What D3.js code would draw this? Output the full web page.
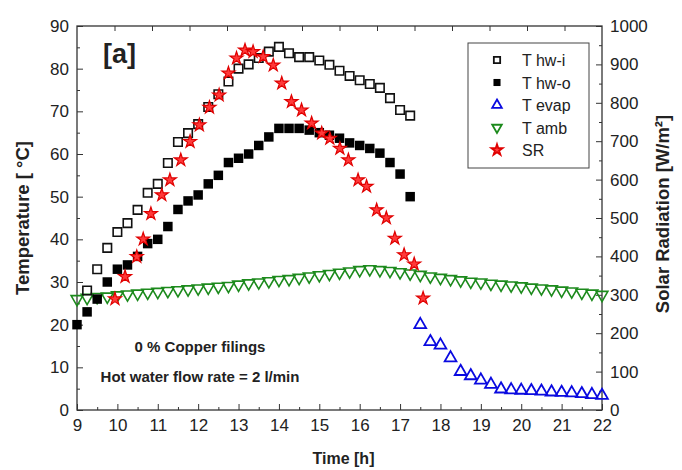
<!DOCTYPE html>
<html>
<head>
<meta charset="utf-8">
<script src="https://cdn.jsdelivr.net/npm/d3@7"></script>
<style>
  body { margin:0; background:#fff; }
  text { font-family: "Liberation Sans", Arial, sans-serif; }
</style>
</head>
<body>
<div id="chart"></div>
<script>
//DATA (time in h, temperatures in degC, radiation in W/m2)
var hwiTime = [9.25,9.5,9.75,10,10.25,10.5,10.75,11,11.25,11.5,11.75,12,12.25,12.5,12.75,13,13.25,13.5,13.75,14,14.25,14.5,14.75,15,15.25,15.5,15.75,16,16.25,16.5,16.75,17,17.25];
var hwiTemp = [28,33,38,41.7,43.8,46.9,50.9,53,57.9,62.8,64.9,67,71,74,77,80,81,82.5,84,85.1,83.6,82.7,82.7,81.9,80.9,79.5,78.3,77.3,76.4,75.5,73.1,70.3,69];

var hwoTime = [9,9.25,9.5,9.75,10,10.25,10.5,10.75,11,11.25,11.5,11.75,12,12.25,12.5,12.75,13,13.25,13.5,13.75,14,14.25,14.5,14.75,15,15.25,15.5,15.75,16,16.25,16.5,16.75,17,17.25];
var hwoTemp = [20,23,26,30,33,34,36,39,40,43,47,49,50.4,53,55,58,59,60,62,64,66,66,66,65.6,65,64.4,63.7,62.6,62,61.3,60.2,58,55.3,50];

var evapTime = [17.5,17.75,18,18.25,18.5,18.75,19,19.25,19.5,19.75,20,20.25,20.5,20.75,21,21.25,21.5,21.75,22];
var evapTemp = [20,16,15.2,12.2,9,8,7,6,4.9,4.7,4.6,4.5,4.4,4.2,4.1,4,3.8,3.6,3.4];

var ambTime = [9,9.25,9.5,9.75,10,10.25,10.5,10.75,11,11.25,11.5,11.75,12,12.25,12.5,12.75,13,13.25,13.5,13.75,14,14.25,14.5,14.75,15,15.25,15.5,15.75,16,16.25,16.5,16.75,17,17.25,17.5,17.75,18,18.25,18.5,18.75,19,19.25,19.5,19.75,20,20.25,20.5,20.75,21,21.25,21.5,21.75,22];
var ambTemp = [26,26.3,26.5,26.6,26.9,27.1,27.3,27.5,27.7,27.9,28.1,28.3,28.5,28.7,28.9,29.1,29.4,29.7,29.9,30.2,30.5,30.7,31,31.3,31.6,31.9,32.2,32.5,32.8,33,32.8,32.6,32.3,32,31.7,31.3,31,30.7,30.4,30.1,29.9,29.6,29.4,29.2,29,28.7,28.5,28.3,28,27.8,27.5,27.3,27];

var srTime = [9.94,10.19,10.48,10.64,10.83,11.1,11.3,11.57,11.8,12.03,12.28,12.52,12.75,12.95,13.16,13.36,13.61,13.86,14.07,14.31,14.56,14.81,15.06,15.26,15.51,15.72,15.96,16.17,16.42,16.66,16.87,17.1,17.35,17.57];
var srVal = [289,347,399,445,511,560,599,651,699,742,788,820,877,916,937,933,920,898,851,803,781,747,721,707,681,651,599,582,521,500,447,404,380,291];

var timeTicks = d3.range(9, 23, 1);
var tempTicks = d3.range(0, 100, 10);
var srTicks = d3.range(0, 1100, 100);

var legendNames = ["T hw-i", "T hw-o", "T evap", "T amb", "SR"];

var width = 682;
var height = 470;

//plot box in px (don't name these top/left, window.top is read only)
var box = { l: 77, r: 602, t: 26, b: 410 };

//---SVG
var svg = d3.select("#chart").append("svg")
  .attr("width", width)
  .attr("height", height);

svg.append("rect")
  .attr("width", width)
  .attr("height", height)
  .attr("fill", "#fff");

var x = d3.scaleLinear().domain([9, 22]).range([box.l, box.r]);
var yT = d3.scaleLinear().domain([0, 90]).range([box.b, box.t]);
var yS = d3.scaleLinear().domain([0, 1000]).range([box.b, box.t]);
var xTop = d3.scaleLinear().domain([0, 14]).range([box.l, box.r]); //top ticks don't follow the hours

//---AXES (ticks inward)
function styleAxis(g) {
  g.select(".domain").remove();
  g.selectAll("line").attr("stroke", "#333").attr("stroke-width", 1);
  g.selectAll("text").attr("fill", "#222").style("font-size", "17px")
    .style("font-family", "'Liberation Sans', Arial, sans-serif");
}

svg.append("g").attr("transform", "translate(0," + box.b + ")")
  .call(d3.axisBottom(x).tickValues(timeTicks).tickSize(-6).tickPadding(9).tickFormat(d3.format("d")))
  .call(styleAxis);
svg.append("g").attr("transform", "translate(0," + box.b + ")")
  .call(d3.axisBottom(x).tickValues(d3.range(9.5, 22, 1)).tickSize(-3).tickFormat(""))
  .call(styleAxis);

svg.append("g").attr("transform", "translate(" + box.l + ",0)")
  .call(d3.axisLeft(yT).tickValues(tempTicks).tickSize(-6).tickPadding(8).tickFormat(d3.format("d")))
  .call(styleAxis);
svg.append("g").attr("transform", "translate(" + box.l + ",0)")
  .call(d3.axisLeft(yT).tickValues(d3.range(5, 90, 10)).tickSize(-3).tickFormat(""))
  .call(styleAxis);

svg.append("g").attr("transform", "translate(" + box.r + ",0)")
  .call(d3.axisRight(yS).tickValues(srTicks).tickSize(-6).tickPadding(8).tickFormat(d3.format("d")))
  .call(styleAxis);
svg.append("g").attr("transform", "translate(" + box.r + ",0)")
  .call(d3.axisRight(yS).tickValues(d3.range(50, 1000, 100)).tickSize(-3).tickFormat(""))
  .call(styleAxis);

svg.append("g").attr("transform", "translate(0," + box.t + ")")
  .call(d3.axisTop(xTop).tickValues(d3.range(1, 14)).tickSize(-5).tickFormat(""))
  .call(styleAxis);

//frame
svg.append("rect")
  .attr("x", box.l).attr("y", box.t)
  .attr("width", box.r - box.l).attr("height", box.b - box.t)
  .attr("fill", "none").attr("stroke", "#333").attr("stroke-width", 1.3);

//---SERIES
var sym = {
  hwi: d3.symbol().type(d3.symbolSquare).size(72),
  hwo: d3.symbol().type(d3.symbolSquare).size(90),
  tri: d3.symbol().type(d3.symbolTriangle).size(60),
  star: d3.symbol().type(d3.symbolStar).size(52)
};

var data = svg.append("g").attr("id", "data");

function series(times, vals, yScale) {
  return times.map(function(t, i){ return [x(t), yScale(vals[i])]; });
}

data.append("g").selectAll("path")
  .data(series(ambTime, ambTemp, yT)).enter().append("path")
  .attr("d", sym.tri)
  .attr("transform", function(d){ return "translate(" + d[0] + "," + d[1] + ") rotate(180)"; })
  .attr("fill", "none").attr("stroke", "#1c8a1c").attr("stroke-width", 1.6);

data.append("g").selectAll("path")
  .data(series(evapTime, evapTemp, yT)).enter().append("path")
  .attr("d", sym.tri)
  .attr("transform", function(d){ return "translate(" + d[0] + "," + d[1] + ")"; })
  .attr("fill", "none").attr("stroke", "#0a0ae0").attr("stroke-width", 1.8);

data.append("g").selectAll("path")
  .data(series(hwiTime, hwiTemp, yT)).enter().append("path")
  .attr("d", sym.hwi)
  .attr("transform", function(d){ return "translate(" + d[0] + "," + d[1] + ")"; })
  .attr("fill", "none").attr("stroke", "#111").attr("stroke-width", 1.6);

data.append("g").selectAll("path")
  .data(series(hwoTime, hwoTemp, yT)).enter().append("path")
  .attr("d", sym.hwo)
  .attr("transform", function(d){ return "translate(" + d[0] + "," + d[1] + ")"; })
  .attr("fill", "#000");

data.append("g").selectAll("path")
  .data(series(srTime, srVal, yS)).enter().append("path")
  .attr("d", sym.star)
  .attr("transform", function(d){ return "translate(" + d[0] + "," + d[1] + ")"; })
  .attr("fill", "#ff3a3a").attr("stroke", "#e00000").attr("stroke-width", 1.2);

//---LEGEND
var ui = svg.append("g").attr("id", "ui");

ui.append("rect")
  .attr("x", 468).attr("y", 43).attr("width", 121).attr("height", 125)
  .attr("fill", "#fff").attr("stroke", "#444").attr("stroke-width", 1);

var legendSym = [
  {s: d3.symbol().type(d3.symbolSquare).size(40), fill: "none", stroke: "#111", rot: 0},
  {s: d3.symbol().type(d3.symbolSquare).size(50), fill: "#000", stroke: "none", rot: 0},
  {s: d3.symbol().type(d3.symbolTriangle).size(40), fill: "none", stroke: "#0a0ae0", rot: 0},
  {s: d3.symbol().type(d3.symbolTriangle).size(40), fill: "none", stroke: "#1c8a1c", rot: 180},
  {s: d3.symbol().type(d3.symbolStar).size(38), fill: "#ff3a3a", stroke: "#e00000", rot: 0}
];

var rows = ui.selectAll("g.leg").data(legendNames).enter().append("g")
  .attr("class", "leg")
  .attr("transform", function(d, i){ return "translate(497," + (60 + i * 22.5) + ")"; });

rows.append("path")
  .attr("d", function(d, i){ return legendSym[i].s(); })
  .attr("transform", function(d, i){ return "rotate(" + legendSym[i].rot + ")"; })
  .attr("fill", function(d, i){ return legendSym[i].fill; })
  .attr("stroke", function(d, i){ return legendSym[i].stroke; })
  .attr("stroke-width", 1.8);

rows.append("text")
  .attr("x", 25).attr("y", 6)
  .style("font-size", "16px").attr("fill", "#222")
  .text(function(d){ return d; });

//---TEXTS
ui.append("text").attr("x", 103).attr("y", 63)
  .style("font-size", "27px").style("font-weight", "bold").attr("fill", "#222")
  .text("[a]");

ui.append("text").attr("x", 200).attr("y", 352).attr("text-anchor", "middle")
  .style("font-size", "15px").style("font-weight", "bold").attr("fill", "#222")
  .text("0 % Copper filings");

ui.append("text").attr("x", 200).attr("y", 382).attr("text-anchor", "middle")
  .style("font-size", "15px").style("font-weight", "bold").attr("fill", "#222")
  .text("Hot water flow rate = 2 l/min");

ui.append("text").attr("x", (box.l + box.r) / 2 + 4).attr("y", 464).attr("text-anchor", "middle")
  .style("font-size", "16px").style("font-weight", "bold").attr("fill", "#222")
  .text("Time [h]");

ui.append("text")
  .attr("transform", "translate(29," + ((box.t + box.b) / 2) + ") rotate(-90)")
  .attr("text-anchor", "middle")
  .style("font-size", "18.5px").style("font-weight", "bold").attr("fill", "#222")
  .text("Temperature [ °C]");

ui.append("text")
  .attr("transform", "translate(669," + ((box.t + box.b) / 2 - 4) + ") rotate(-90)")
  .attr("text-anchor", "middle")
  .style("font-size", "18.5px").style("font-weight", "bold").attr("fill", "#222")
  .text("Solar Radiation [W/m²]");
</script>
</body>
</html>
